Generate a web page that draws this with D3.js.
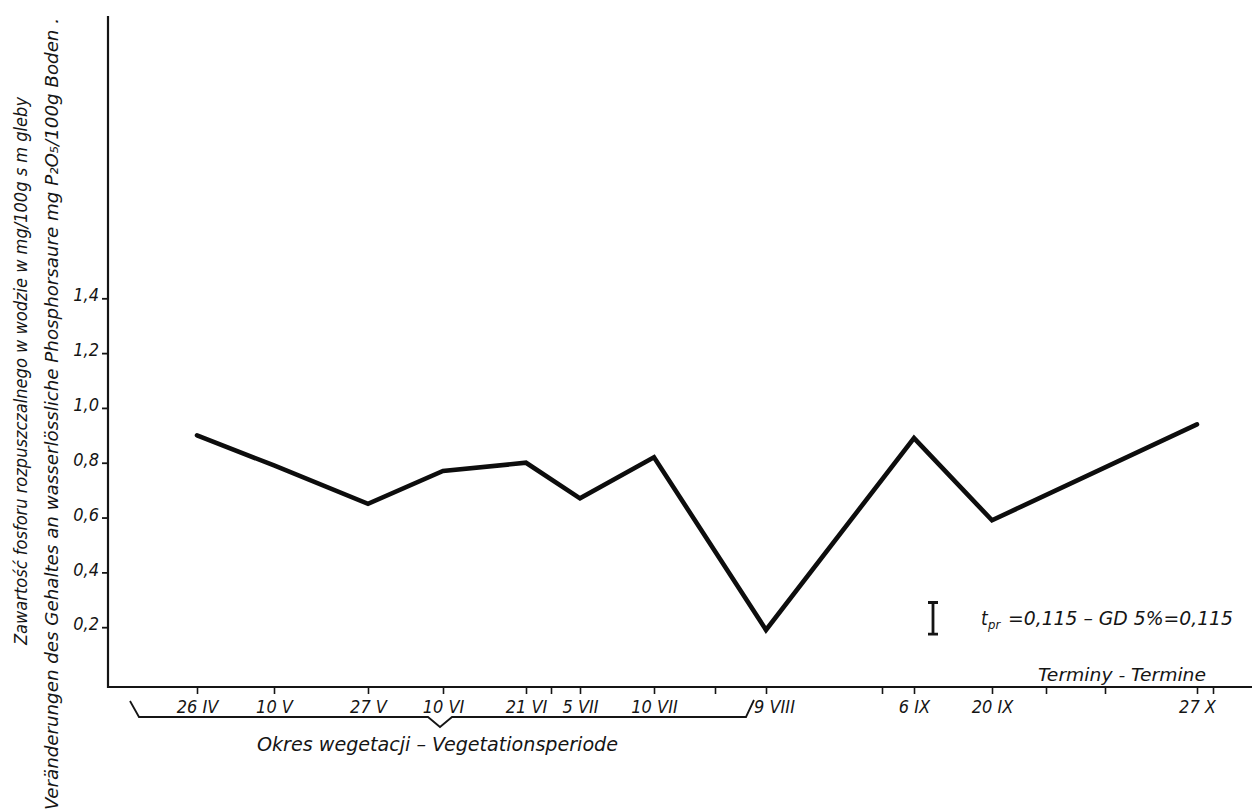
<!DOCTYPE html>
<html>
<head>
<meta charset="utf-8">
<script src="https://cdn.jsdelivr.net/npm/d3@7"></script>
<style>
  html, body { margin: 0; padding: 0; background: #fff; }
  svg { display: block; }
  text {
    font-family: "DejaVu Sans Condensed", "DejaVu Sans", "Liberation Sans Narrow", sans-serif;
    font-style: oblique;
    fill: #151515;
  }
</style>
</head>
<body>
<script>
// Sampling dates (day + Roman month) along the season
const terms = ["26 IV", "10 V", "27 V", "10 VI", "21 VI", "5 VII", "10 VII", "9 VIII", "6 IX", "20 IX", "27 X"];
// Position of each date along the time axis (axis units)
const termPos = [8.9, 16.6, 26.0, 33.5, 41.8, 47.2, 54.6, 65.8, 80.6, 88.4, 108.9];
// Water-soluble phosphorus, mg P2O5 / 100 g soil
const phosphorus = [0.90, 0.79, 0.65, 0.77, 0.80, 0.67, 0.82, 0.19, 0.89, 0.59, 0.94];
// Unlabelled marks on the time axis
const extraTicks = [44.3, 60.7, 77.4, 93.8, 99.7, 110.5];
// Value axis ticks
const yTicks = [0.2, 0.4, 0.6, 0.8, 1.0, 1.2, 1.4];
// Least significant difference (5 %)
const lsd = 0.115;
const lsdBase = 0.175;
const lsdPos = 82.5;
// Vegetation period bracket (axis units)
const vegetationSpan = [2.2, 64.2];

const W = 1258, H = 810;
const svg = d3.select("body").append("svg").attr("width", W).attr("height", H);

const x = d3.scaleLinear().domain([0, 114.2]).range([108, 1250]);
const y = d3.scaleLinear().domain([0, 2.43]).range([682, 16]);
const axisY = 687;
const ink = "#151515";

// Axes frame
svg.append("path")
  .attr("d", `M${x(0)},${y(2.43)} L${x(0)},${axisY} L${x(114.4)},${axisY}`)
  .attr("fill", "none").attr("stroke", ink).attr("stroke-width", 2.2);

// Value axis
const yAxis = svg.append("g")
  .attr("transform", `translate(${x(0)},0)`)
  .call(d3.axisLeft(y).tickValues(yTicks).tickSize(6).tickPadding(3)
    .tickFormat(d => d.toFixed(1).replace(".", ",")));
yAxis.select(".domain").remove();
yAxis.selectAll(".tick line").attr("stroke", ink).attr("stroke-width", 1.8);
yAxis.selectAll(".tick text")
  .attr("font-size", 18).attr("dy", "0.15em").attr("fill", ink)
  .style("font-family", null);

// Time axis with date labels
const xAxis = svg.append("g")
  .attr("transform", `translate(0,${axisY})`)
  .call(d3.axisBottom(x).tickValues(termPos).tickSize(7).tickPadding(6)
    .tickFormat((d, i) => terms[i]));
xAxis.select(".domain").remove();
xAxis.selectAll(".tick line").attr("stroke", ink).attr("stroke-width", 1.6);
xAxis.selectAll(".tick text").attr("font-size", 18).attr("fill", ink)
  .attr("dx", (d, i) => terms[i] === "9 VIII" ? 8 : 0);

const xMinor = svg.append("g")
  .attr("transform", `translate(0,${axisY})`)
  .call(d3.axisBottom(x).tickValues(extraTicks).tickSize(7).tickFormat(""));
xMinor.select(".domain").remove();
xMinor.selectAll(".tick line").attr("stroke", ink).attr("stroke-width", 1.6);

// Data line
const line = d3.line()
  .x((d, i) => x(termPos[i]))
  .y(d => y(d));
svg.append("path")
  .datum(phosphorus)
  .attr("d", line)
  .attr("fill", "none")
  .attr("stroke", "#0d0d0d")
  .attr("stroke-width", 4.6)
  .attr("stroke-linejoin", "miter")
  .attr("stroke-linecap", "round");

// LSD bar
const lx = x(lsdPos), ly0 = y(lsdBase), ly1 = y(lsdBase + lsd);
svg.append("path")
  .attr("d", `M${lx},${ly0} L${lx},${ly1} M${lx - 5},${ly0} L${lx + 5},${ly0} M${lx - 5},${ly1} L${lx + 5},${ly1}`)
  .attr("stroke", ink).attr("stroke-width", 2.8).attr("fill", "none");

const lsdTextX = lx + 48, lsdTextY = 625;
svg.append("text").attr("x", lsdTextX).attr("y", lsdTextY)
  .attr("font-size", 19).text("t");
svg.append("text").attr("x", lsdTextX + 7).attr("y", lsdTextY + 4)
  .attr("font-size", 13).text("pr");
svg.append("text").attr("x", lsdTextX + 27).attr("y", lsdTextY)
  .attr("font-size", 19).attr("textLength", 225).attr("lengthAdjust", "spacingAndGlyphs")
  .text("=" + lsd.toFixed(3).replace(".", ",") + " – GD 5%=" + lsd.toFixed(3).replace(".", ","));

// Axis caption on the time axis
svg.append("text").attr("x", 1038).attr("y", axisY - 6)
  .attr("font-size", 18).attr("textLength", 168).attr("lengthAdjust", "spacingAndGlyphs")
  .text("Terminy - Termine");

// Vegetation period bracket
const bx0 = x(vegetationSpan[0]), bx1 = x(vegetationSpan[1]);
const bm = (bx0 + bx1) / 2, by = 717;
svg.append("path")
  .attr("d", `M${bx0},${by - 16} L${bx0 + 9},${by} L${bm - 12},${by} L${bm},${by + 10} L${bm + 12},${by} L${bx1 - 4},${by} L${bx1 + 4},${by - 17}`)
  .attr("fill", "none").attr("stroke", ink).attr("stroke-width", 1.8).attr("stroke-linejoin", "miter");
svg.append("text").attr("x", 257).attr("y", 751)
  .attr("font-size", 19).attr("textLength", 361).attr("lengthAdjust", "spacingAndGlyphs")
  .text("Okres wegetacji  –  Vegetationsperiode");

// Value axis titles (Polish / German)
svg.append("text")
  .attr("transform", "translate(27,645) rotate(-90)")
  .attr("font-size", 18).attr("textLength", 548).attr("lengthAdjust", "spacingAndGlyphs")
  .text("Zawartość fosforu rozpuszczalnego w wodzie w mg/100g s m gleby");
svg.append("text")
  .attr("transform", "translate(58,810) rotate(-90)")
  .attr("font-size", 18).attr("textLength", 792).attr("lengthAdjust", "spacingAndGlyphs")
  .text("Veränderungen des Gehaltes an wasserlössliche Phosphorsaure mg P₂O₅/100g Boden .");
</script>
</body>
</html>
